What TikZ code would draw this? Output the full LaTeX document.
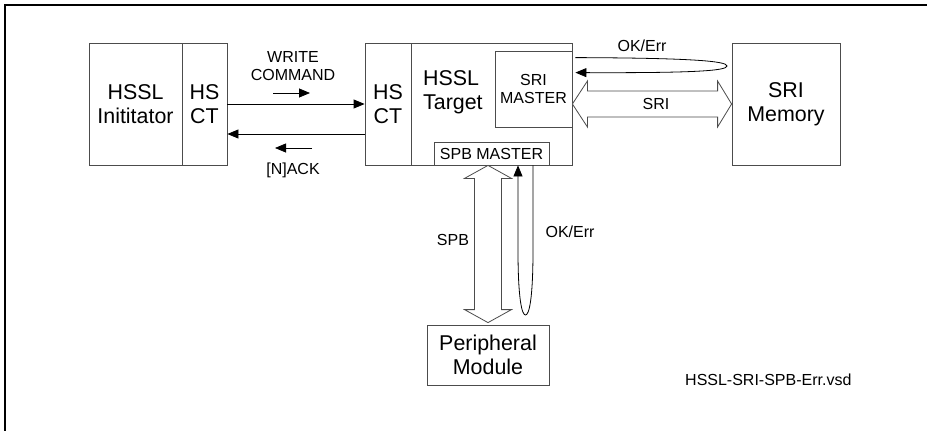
\documentclass[tikz,border=0pt]{standalone}
\usepackage{fontspec}
\setmainfont{Liberation Sans}
\usetikzlibrary{arrows.meta,calc}
\begin{document}
\begin{tikzpicture}[x=1pt,y=-1pt,
  box/.style={draw=black!70, line width=0.8pt, inner sep=0pt, align=center},
  big/.style={font=\fontsize{21.4}{24.5}\selectfont},
  small/.style={font=\fontsize{16}{18}\selectfont},
  arr/.style={-{Triangle[length=11pt,width=9pt]}, line width=0.8pt},
  blk/.style={draw=black!70, line width=0.8pt, fill=white, line join=miter},
  loopline/.style={line width=0.8pt, -{Triangle[length=11pt,width=9pt]}}]
\useasboundingbox (0,0) rectangle (927,431);
% frame
\draw[line width=1.6pt] (5,431) -- (5,5) -- (927,5);
% initiator
\node[box, big, minimum width=93pt, minimum height=122pt] (init) at (135.5,104) {HSSL\\Inititator};
\node[box, big, minimum width=45pt, minimum height=122pt] (iHS) at (204.5,104) {HS\\CT};
% target
\node[box, minimum width=207pt, minimum height=122pt] (target) at (468.5,104) {};
\node[box, big, minimum width=46pt, minimum height=122pt] (tHS) at (388,104) {HS\\CT};
\node[big, align=left, anchor=west, inner sep=0pt] (ttxt) at (423,92) {HSSL\\Target};
\node[box, small, minimum width=77pt, minimum height=76pt] (sriM) at (533.5,89) {SRI\\MASTER};
\node[box, small, minimum width=115pt, minimum height=23pt] (spbM) at (491.5,153.5) {SPB MASTER};
% memory and peripheral
\node[box, big, minimum width=108pt, minimum height=122pt] (mem) at (786,104) {SRI\\Memory};
\node[box, big, minimum width=122pt, minimum height=60pt] (periph) at (488,355) {Peripheral\\Module};
% write / nack
\draw[arr] (iHS.east) -- (tHS.west);
\draw[arr] ($(tHS.west)+(0,30)$) -- ($(iHS.east)+(0,30)$);
\node[small, align=center] (wc) at (293,66) {WRITE\\COMMAND};
\coordinate (w1) at (273,93);
\coordinate (w2) at (310,93);
\draw[arr] (w1) -- (w2);
\coordinate (n1) at (312,148);
\coordinate (n2) at (275,148);
\draw[arr] (n1) -- (n2);
\node[small] (nack) at (293,170) {[N]ACK};
% SRI block arrow
\draw[blk] (target.east) -- ++(15,-23) -- ++(0,10) -- ($(mem.west)+(-14,-13)$) -- ++(0,-10) -- (mem.west) -- ++(-14,23) -- ++(0,-10) -- ($(target.east)+(15,13)$) -- ++(0,10) -- cycle;
\node[small] (sril) at (656,104) {SRI};
% OK/Err horizontal loop
\coordinate (h1) at ($(sriM.north east)+(3,7)$);
\coordinate (h2) at ($(sriM.north east)+(3,22)$);
\draw[loopline] (h1) .. controls (690,58) and (727,61) .. (727,66) .. controls (727,71) and (690,73) .. (h2);
\node[small] (okh) at (642,46) {OK/Err};
% SPB block arrow
\coordinate (spbtop) at (periph.north |- target.south);
\coordinate (pbot) at ($(periph.north)+(0,-2)$);
\draw[blk] (spbtop) -- ++(23.5,13) -- ++(-10,0) -- ($(pbot)+(13.5,-13)$) -- ++(10,0) -- (pbot) -- ++(-23.5,-13) -- ++(10,0) -- ($(spbtop)+(-13.5,13)$) -- ++(-10,0) -- cycle;
\node[small] (spbl) at (453,240) {SPB};
% OK/Err vertical loop
\coordinate (v1) at ($(spbM.south)+(41.5,0)$);
\coordinate (v2) at ($(spbM.south)+(26.5,0)$);
\draw[loopline] (v1) -- (533,250) .. controls (533,300) and (529,315) .. (525.5,315) .. controls (522,315) and (518,300) .. (518,250) -- (v2);
\node[small] (okv) at (570,232) {OK/Err};
% filename
\node[small, anchor=west, inner sep=0pt] (fname) at (685,380) {HSSL-SRI-SPB-Err.vsd};
\end{tikzpicture}
\end{document}
